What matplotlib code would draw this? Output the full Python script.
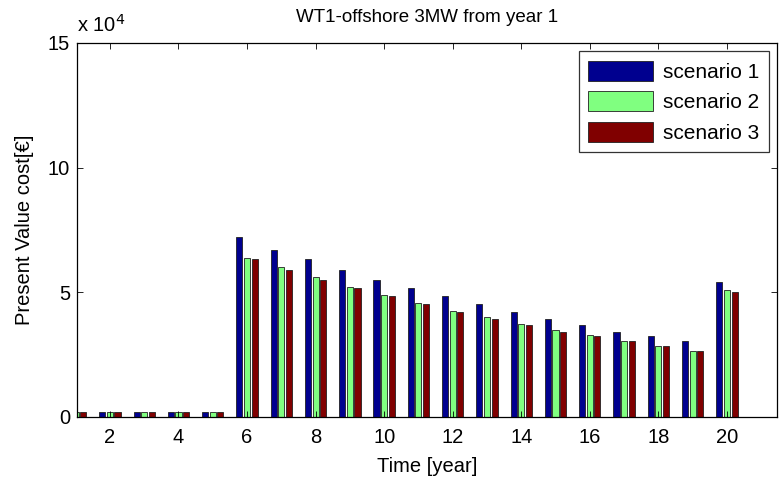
import matplotlib
matplotlib.use("Agg")
import matplotlib.pyplot as plt
import numpy as np

plt.rcParams["font.family"] = ["Liberation Sans", "DejaVu Sans"]

years = np.arange(1, 21)
scenario_1 = [1900, 1900, 1900, 1900, 1900, 72300, 67100, 63300, 59000, 55000,
              51600, 48400, 45200, 42000, 39400, 36900, 34200, 32400, 30400, 54200]
scenario_2 = [2000, 2000, 2000, 2000, 2000, 63900, 60000, 56200, 52300, 49100,
              45900, 42500, 40000, 37400, 34800, 32900, 30400, 28400, 26500, 50900]
scenario_3 = [1900, 1900, 1900, 1900, 1900, 63300, 58800, 55000, 51700, 48400,
              45200, 42000, 39400, 36800, 34200, 32400, 30400, 28400, 26500, 50300]
labels = ["scenario 1", "scenario 2", "scenario 3"]
colors = ["#00008f", "#80ff80", "#800000"]

fig = plt.figure(figsize=(7.81, 4.8), dpi=100)
ax = fig.add_axes([77 / 781, 1 - 417 / 480, 700 / 781, 374 / 480])

series = [scenario_1, scenario_2, scenario_3]
offset = 0.222
width = 0.178
for i, (vals, lab, col) in enumerate(zip(series, labels, colors)):
    ax.bar(years + (i - 1) * offset, np.array(vals) / 1e4, width=width,
           color=col, edgecolor="#202020", linewidth=0.6, label=lab)

ax.set_xlim(1.04, 21.46)
ax.set_ylim(0, 15)
ax.set_xticks(np.arange(2, 21, 2))
ax.set_yticks([0, 5, 10, 15])
ax.tick_params(direction="in", top=True, right=True, labelsize=14.5,
               length=4, width=0.6)
ax.tick_params(axis="x", pad=8)
ax.tick_params(axis="y", pad=5)
for s in ax.spines.values():
    s.set_linewidth(0.9)

ax.set_title("WT1-offshore 3MW from year 1", fontsize=13.5, pad=15)
ax.set_xlabel("Time [year]", fontsize=14.5, labelpad=7)
ax.set_ylabel("Present Value cost[€]", fontsize=14.5, labelpad=10)
ax.text(0.0, 1.02, r"x 10$^4$", transform=ax.transAxes, fontsize=14.5,
        ha="left", va="bottom")

leg = ax.legend(loc="upper right", fontsize=15, frameon=True, fancybox=False,
                edgecolor="black", handlelength=3.1, handleheight=1.1,
                borderaxespad=0.4, labelspacing=0.45, handletextpad=0.5,
                borderpad=0.45)
leg.get_frame().set_linewidth(0.9)

fig.savefig("out.png", dpi=100)
